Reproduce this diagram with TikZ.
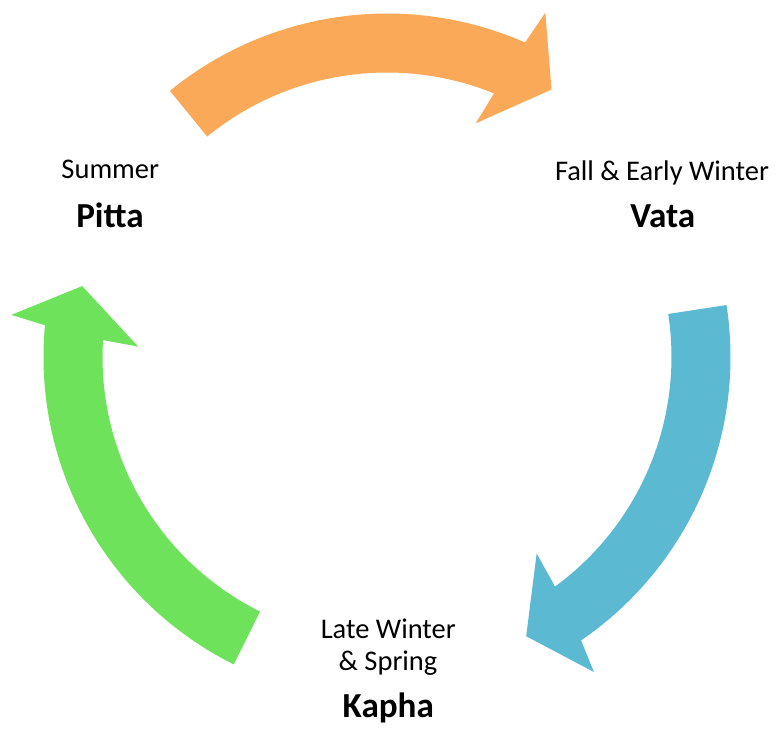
\documentclass[tikz,border=0pt]{standalone}
\usepackage{fontspec}
\setmainfont{Carlito}
\definecolor{pittaorange}{RGB}{249,169,88}
\definecolor{vatablue}{RGB}{91,185,209}
\definecolor{kaphagreen}{RGB}{110,226,90}
\begin{document}
\begin{tikzpicture}[x=0.02cm,y=0.02cm,
  season/.style={anchor=base,inner sep=0pt,font=\fontsize{16.2}{19}\selectfont},
  dosha/.style={anchor=base,inner sep=0pt,font=\fontsize{20}{22}\selectfont\bfseries}]
\useasboundingbox (-387,-374) rectangle (392,357);
% summer -> fall
\fill[pittaorange] (129.2:343.5) arc[start angle=129.2,end angle=66.3,radius=343.5]
  -- (65.3:379) -- (58.4:314) -- (69.2:250) -- (67.9:284.5)
  arc[start angle=67.9,end angle=129.2,radius=284.5] -- cycle;
% fall -> late winter
\fill[vatablue] (8.7:343.5) arc[start angle=8.7,end angle=-55.6,radius=343.5]
  -- (-56.7:377) -- (-63.5:312) -- (-52.7:247) -- (-53.8:284.5)
  arc[start angle=-53.8,end angle=8.7,radius=284.5] -- cycle;
% late winter -> summer
\fill[kaphagreen] (243.5:343.5) arc[start angle=243.5,end angle=174.7,radius=343.5]
  -- (173.6:378) -- (166.9:313) -- (177.6:249) -- (176.6:284.5)
  arc[start angle=176.6,end angle=243.5,radius=284.5] -- cycle;
\node[season] (summer) at (-276.7,178.7) {Summer};
\node[dosha] (pitta) at (-277,129.7) {Pitta};
\node[season] (fall) at (275,176.3) {Fall \& Early Winter};
\node[dosha] (vata) at (275.8,129.7) {Vata};
\node[season] (latewinter) at (1.3,-281) {Late Winter};
\node[season] (spring) at (1,-313) {\& Spring};
\node[dosha] (kapha) at (1.3,-360) {Kapha};
\end{tikzpicture}
\end{document}
